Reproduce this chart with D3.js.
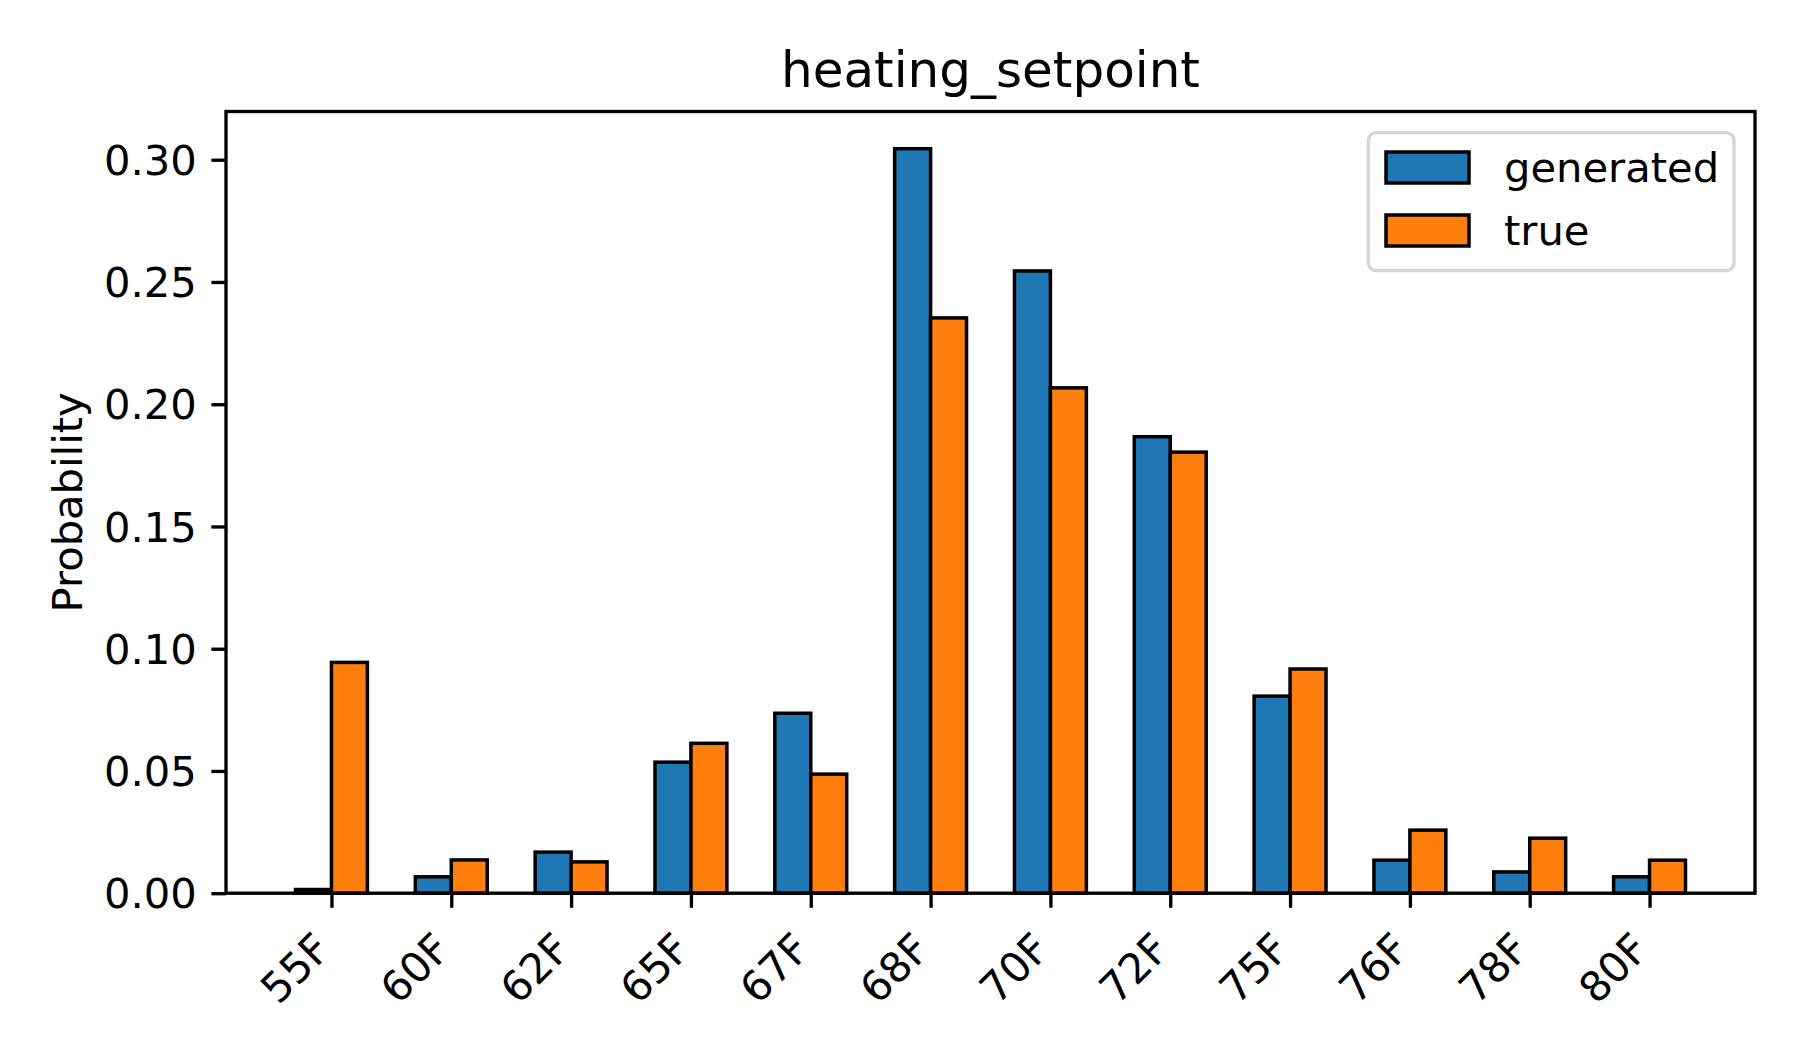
<!DOCTYPE html>
<html>
<head>
<meta charset="utf-8">
<script src="https://cdn.jsdelivr.net/npm/d3@7"></script>
<style>
  html, body { margin: 0; padding: 0; background: #fff; }
  svg { display: block; }
  text { font-family: "DejaVu Sans", sans-serif; fill: #000; }
</style>
</head>
<body>
<svg id="chart" width="1800" height="1050"></svg>
<script>
const categories = ["55F", "60F", "62F", "65F", "67F", "68F", "70F", "72F", "75F", "76F", "78F", "80F"];
const generated = [0.0015, 0.0067, 0.0168, 0.0536, 0.0736, 0.3045, 0.2545, 0.1867, 0.0806, 0.0135, 0.0087, 0.0067];
const trueVals  = [0.0944, 0.0136, 0.0128, 0.0613, 0.0487, 0.2353, 0.2067, 0.1804, 0.0917, 0.0258, 0.0225, 0.0135];
const yTicks = [0.00, 0.05, 0.10, 0.15, 0.20, 0.25, 0.30];
const seriesNames = ["generated", "true"];
const seriesColors = ["#1f77b4", "#ff7f0e"];

const svg = d3.select("#chart");
const L = 226, R = 1755, T = 111.5, B = 893.2;
const barW = 0.3;
const fs = 41.67;
const lw = 3.33;

const n = categories.length;
const xMin = -barW, xMax = (n - 1) + barW;
const pad = (xMax - xMin) * 0.05;
const x = d3.scaleLinear().domain([xMin - pad, xMax + pad]).range([L, R]);
const yTop = d3.max(generated.concat(trueVals)) * 1.05;
const y = d3.scaleLinear().domain([0, yTop]).range([B, T]);

const plot = svg.append("g");

// generated bars (left of tick)
plot.selectAll("rect.gen").data(generated).enter().append("rect")
  .attr("class", "gen")
  .attr("x", (d, i) => x(i - barW))
  .attr("width", x(barW) - x(0))
  .attr("y", d => y(d))
  .attr("height", d => y(0) - y(d))
  .attr("fill", seriesColors[0])
  .attr("stroke", "#000")
  .attr("stroke-width", 3.5);

// true bars (right of tick)
plot.selectAll("rect.tru").data(trueVals).enter().append("rect")
  .attr("class", "tru")
  .attr("x", (d, i) => x(i))
  .attr("width", x(barW) - x(0))
  .attr("y", d => y(d))
  .attr("height", d => y(0) - y(d))
  .attr("fill", seriesColors[1])
  .attr("stroke", "#000")
  .attr("stroke-width", 3.5);

// Y axis
const yAxis = d3.axisLeft(y).tickValues(yTicks).tickFormat(d3.format(".2f"))
  .tickSize(14.6).tickPadding(14.6);
const gy = svg.append("g").attr("transform", `translate(${L},0)`).call(yAxis);
gy.select(".domain").remove();
gy.selectAll(".tick line").attr("stroke", "#000").attr("stroke-width", lw);
gy.selectAll(".tick text").attr("font-size", fs).attr("font-family", "DejaVu Sans").attr("fill", "#000").attr("dy", "0.35em");

// X axis
const xAxis = d3.axisBottom(x).tickValues(d3.range(n)).tickFormat(i => categories[i])
  .tickSize(14.6).tickPadding(14.6);
const gx = svg.append("g").attr("transform", `translate(0,${B})`).call(xAxis);
gx.select(".domain").remove();
gx.selectAll(".tick line").attr("stroke", "#000").attr("stroke-width", lw);
gx.selectAll(".tick text")
  .attr("font-size", fs).attr("font-family", "DejaVu Sans").attr("fill", "#000")
  .attr("text-anchor", "end")
  .attr("y", 0).attr("dy", 0)
  .attr("transform", "translate(1,58) rotate(-45)");

// Spines
svg.append("rect")
  .attr("x", L).attr("y", T).attr("width", R - L).attr("height", B - T)
  .attr("fill", "none").attr("stroke", "#000").attr("stroke-width", lw);

// Title
svg.append("text").attr("x", (L + R) / 2).attr("y", 87)
  .attr("text-anchor", "middle").attr("font-size", 50).text("heating_setpoint");

// Y label
svg.append("text").attr("transform", `translate(82,${(T + B) / 2}) rotate(-90)`)
  .attr("text-anchor", "middle").attr("font-size", fs).text("Probability");

// Legend
const lg = svg.append("g");
lg.append("rect").attr("x", 1368.3).attr("y", 132.7).attr("width", 1734 - 1368.3).attr("height", 270.7 - 132.7)
  .attr("rx", 8).attr("ry", 8)
  .attr("fill", "#fff").attr("fill-opacity", 0.8).attr("stroke", "#d6d6d6").attr("stroke-width", lw);
seriesNames.forEach((name, i) => {
  const cy = 167.5 + i * 63;
  lg.append("rect").attr("x", 1386).attr("y", cy - 15.5).attr("width", 83).attr("height", 31)
    .attr("fill", seriesColors[i]).attr("stroke", "#000").attr("stroke-width", 3.5);
  lg.append("text").attr("x", 1504).attr("y", cy + 14.5).attr("font-size", fs).text(name);
});
</script>
</body>
</html>
